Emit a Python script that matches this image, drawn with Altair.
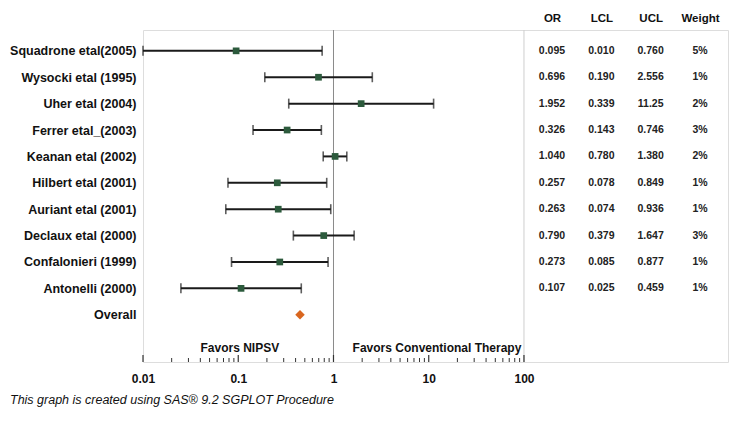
import altair as alt
import pandas as pd

studies = ["Squadrone etal(2005)", "Wysocki etal (1995)", "Uher etal (2004)",
           "Ferrer etal_(2003)", "Keanan etal (2002)", "Hilbert etal (2001)",
           "Auriant etal (2001)", "Declaux etal (2000)", "Confalonieri (1999)",
           "Antonelli (2000)"]
odds = [0.095, 0.696, 1.952, 0.326, 1.040, 0.257, 0.263, 0.790, 0.273, 0.107]
lcl = [0.010, 0.190, 0.339, 0.143, 0.780, 0.078, 0.074, 0.379, 0.085, 0.025]
ucl = [0.760, 2.556, 11.25, 0.746, 1.380, 0.849, 0.936, 1.647, 0.877, 0.459]
weights = ["5%", "1%", "2%", "3%", "2%", "1%", "1%", "3%", "1%", "1%"]
overall_label = "Overall"
overall_or = 0.445
blank_row = " "
table_cols = ["OR", "LCL", "UCL", "Weight"]
major_ticks = [0.01, 0.1, 1, 10, 100]
minor_ticks = [m * d for d in [0.01, 0.1, 1, 10] for m in range(2, 10)]
favors_text = ["Favors NIPSV", "Favors Conventional Therapy"]
favors_pos = [0.104, 12.2]
footnote = "This graph is created using SAS\u00ae 9.2 SGPLOT Procedure"

W, H = 585, 332
FONT = "Liberation Sans"

df = pd.DataFrame({"study": studies, "OR": odds, "LCL": lcl, "UCL": ucl})
ov = pd.DataFrame({"study": [overall_label], "OR": [overall_or]})
major_df = pd.DataFrame({"v": major_ticks})
minor_df = pd.DataFrame({"v": minor_ticks})
fav_df = pd.DataFrame({"t": favors_text, "x": favors_pos, "study": [blank_row] * 2})

def fmt(v):
    return f"{v:.3f}" if v < 10 else f"{v:.2f}"

rows = []
for i, s in enumerate(studies):
    vals = [fmt(odds[i]), fmt(lcl[i]), fmt(ucl[i]), weights[i]]
    for j, c in enumerate(table_cols):
        rows.append({"study": s, "ci": j, "t": vals[j]})
tab = pd.DataFrame(rows)

ydom = studies + [overall_label, blank_row]
yenc = alt.Y("study:N", scale=alt.Scale(type="point", domain=ydom, padding=0.79),
             axis=alt.Axis(title=None, domain=False, ticks=False, labelPadding=7,
                           labelFont=FONT, labelFontWeight="bold", labelFontSize=12.5,
                           labelColor="#111", labelLimit=300))
xscale = alt.Scale(type="log", domain=[0.01, 13870], nice=False)
xaxis = alt.Axis(values=major_ticks, format="~g", ticks=False, domain=False,
                 grid=False, title=None, labelPadding=11, labelFlush=False,
                 labelFont=FONT, labelFontWeight="bold", labelFontSize=12,
                 labelColor="#111")
xenc = lambda f: alt.X(f, scale=xscale, axis=xaxis)

bars = alt.Chart(df).mark_rule(color="#1a1a1a", strokeWidth=2).encode(
    x=xenc("LCL:Q"), x2="UCL:Q", y=yenc)
cap_lo = alt.Chart(df).mark_tick(color="#1a1a1a", size=10, thickness=1.6).encode(
    x=xenc("LCL:Q"), y=yenc)
cap_hi = alt.Chart(df).mark_tick(color="#1a1a1a", size=10, thickness=1.6).encode(
    x=xenc("UCL:Q"), y=yenc)
squares = alt.Chart(df).mark_square(color="#2c5a3c", size=45, opacity=1).encode(
    x=xenc("OR:Q"), y=yenc)
diamond = alt.Chart(ov).mark_point(shape="diamond", filled=True, color="#d9661f",
                                   size=90, opacity=1).encode(x=xenc("OR:Q"), y=yenc)
ref1 = alt.Chart(pd.DataFrame({"v": [1]})).mark_rule(color="#8a8a8a", strokeWidth=1).encode(
    x=xenc("v:Q"))
sep = alt.Chart(pd.DataFrame({"v": [100]})).mark_rule(color="#cfcfcf", strokeWidth=1).encode(
    x=xenc("v:Q"))
tick_major = alt.Chart(major_df).mark_rule(color="#333", strokeWidth=1.2).encode(
    x=xenc("v:Q"), y=alt.value(H), y2=alt.value(H - 7))
tick_minor = alt.Chart(minor_df).mark_rule(color="#333", strokeWidth=1).encode(
    x=xenc("v:Q"), y=alt.value(H), y2=alt.value(H - 4))
fav = alt.Chart(fav_df).mark_text(font=FONT, fontSize=12, fontWeight="bold",
                                  color="#111", dy=7).encode(
    x=xenc("x:Q"), y=yenc, text="t:N")
foot = alt.Chart(pd.DataFrame({"t": [footnote]})).mark_text(
    font=FONT, fontSize=12.5, fontStyle="italic", color="#111", align="left",
    baseline="alphabetic").encode(x=alt.value(-133), y=alt.value(374), text="t:N")

inner = alt.layer(ref1, sep, bars, cap_lo, cap_hi, squares, diamond,
                  tick_major, tick_minor, fav, foot)

label_expr = "[" + ",".join(f"'{c}'" for c in table_cols) + "][datum.value]"
table = alt.Chart(tab).mark_text(font=FONT, fontSize=10.5, fontWeight="bold",
                                 color="#222").encode(
    x=alt.X("ci:Q", scale=alt.Scale(domain=[0, len(table_cols) - 1], range=[409, 557],
                                    nice=False, zero=False),
            axis=alt.Axis(orient="top", values=list(range(len(table_cols))),
                          labelExpr=label_expr, labelOverlap=False, labelFlush=False,
                          domain=False, ticks=False, grid=False, labelPadding=7,
                          labelAngle=0, title=None, labelFont=FONT,
                          labelFontWeight="bold", labelFontSize=11.5,
                          labelColor="#111")),
    y=yenc, text="t:N")

chart = alt.layer(inner, table).resolve_scale(x="independent").properties(
    width=W, height=H,
    autosize=alt.AutoSizeParams(type="none"),
    padding={"left": 135, "top": 22, "right": 2, "bottom": 51},
).configure_view(stroke="#333", strokeWidth=1.5).configure(background="white")

chart.save("out.html", embed_options={"renderer": "svg", "actions": False})
